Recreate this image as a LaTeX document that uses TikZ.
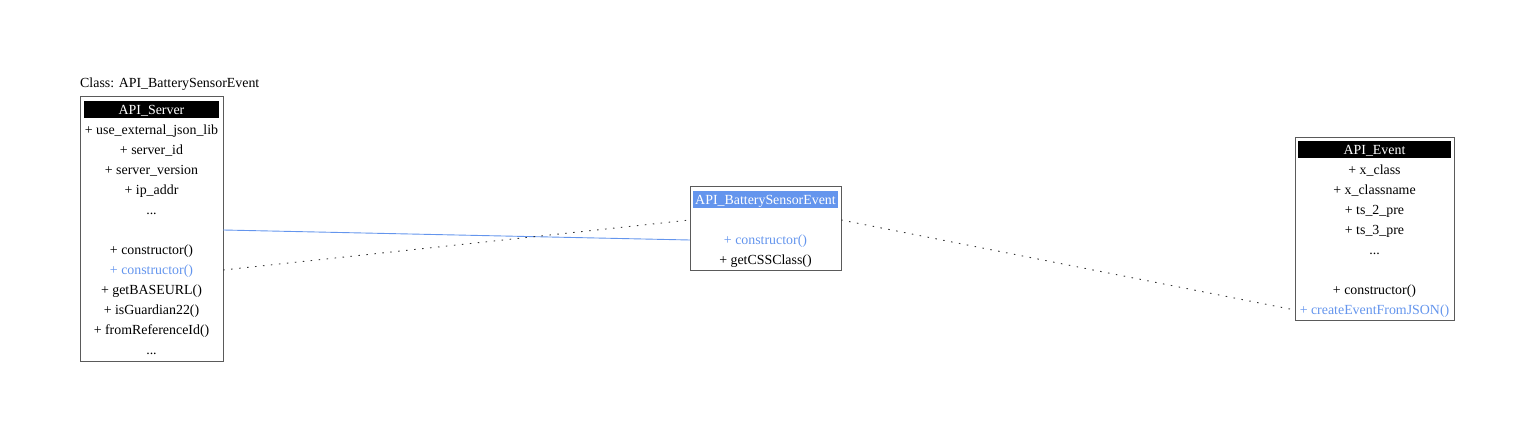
\documentclass[tikz,border=0pt]{standalone}
\usepackage{fontspec}
\setmainfont{Liberation Serif}
\usetikzlibrary{positioning}
\definecolor{Link}{HTML}{6495ED}
\definecolor{Frame}{HTML}{5A5A5A}
\definecolor{Dots}{HTML}{333333}
\newcommand{\etc}{...}

\begin{document}
\begin{tikzpicture}[x=1pt, y=-1pt,
    font=\fontsize{13.9}{16}\selectfont,
    box/.style={draw=Frame, line width=1pt, inner sep=0pt},
    head/.style={fill=black, text=white, inner sep=0pt, minimum height=17pt,
      text height=11pt, text depth=2pt},
    row/.style={inner sep=0pt, minimum height=20pt, text height=11pt, text depth=2pt},
    call/.style={line width=0.9pt, Dots, dash pattern=on 1.5pt off 6.5pt}]
        \useasboundingbox (0,0) rectangle (1535,438);
        \node[anchor=base west, inner sep=0pt] (title) at (80,88) {Class: API\_BatterySensorEvent};
        % API_Server
        \node[box, minimum width=143pt, minimum height=265pt] (srv) at (151.5,229.5) {};
        \node[head, minimum width=135pt] (srvH) at (151.5,110) {API\_Server};
        \foreach \txt [count=\i] in {+ use\_external\_json\_lib, + server\_id, + server\_version,
            + ip\_addr, \etc, {}, + constructor(), {\textcolor{Link}{+ constructor()}},
            + getBASEURL(), + isGuardian22(), + fromReferenceId(), \etc}
          \node[row, minimum width=143pt] (srv\i) at (151.5,110+20*\i) {\txt};
        % API_BatterySensorEvent
        \node[box, minimum width=151pt, minimum height=84pt] (bat) at (765.5,229) {};
        \node[head, fill=Link, minimum width=145pt] (batH) at (765.5,200) {API\_BatterySensorEvent};
        \foreach \txt [count=\i] in {{}, {\textcolor{Link}{+ constructor()}}, + getCSSClass()}
          \node[row, minimum width=151pt] (bat\i) at (765.5,200+20*\i) {\txt};
        % API_Event
        \node[box, minimum width=159pt, minimum height=183pt] (evt) at (1374.5,229.5) {};
        \node[head, minimum width=153pt] (evtH) at (1374.5,150) {API\_Event};
        \foreach \txt [count=\i] in {+ x\_class, + x\_classname, + ts\_2\_pre, + ts\_3\_pre,
            \etc, {}, + constructor(), {\textcolor{Link}{+ createEventFromJSON()}}}
          \node[row, minimum width=159pt] (evt\i) at (1374.5,150+20*\i) {\txt};
        % links
        \draw[Link, line width=0.9pt] (srv6.east) -- (bat2.west);
        \draw[call] (srv8.east) -- (bat1.west);
        \draw[call] (bat1.east) -- (evt8.west);
      \end{tikzpicture}
\end{document}
